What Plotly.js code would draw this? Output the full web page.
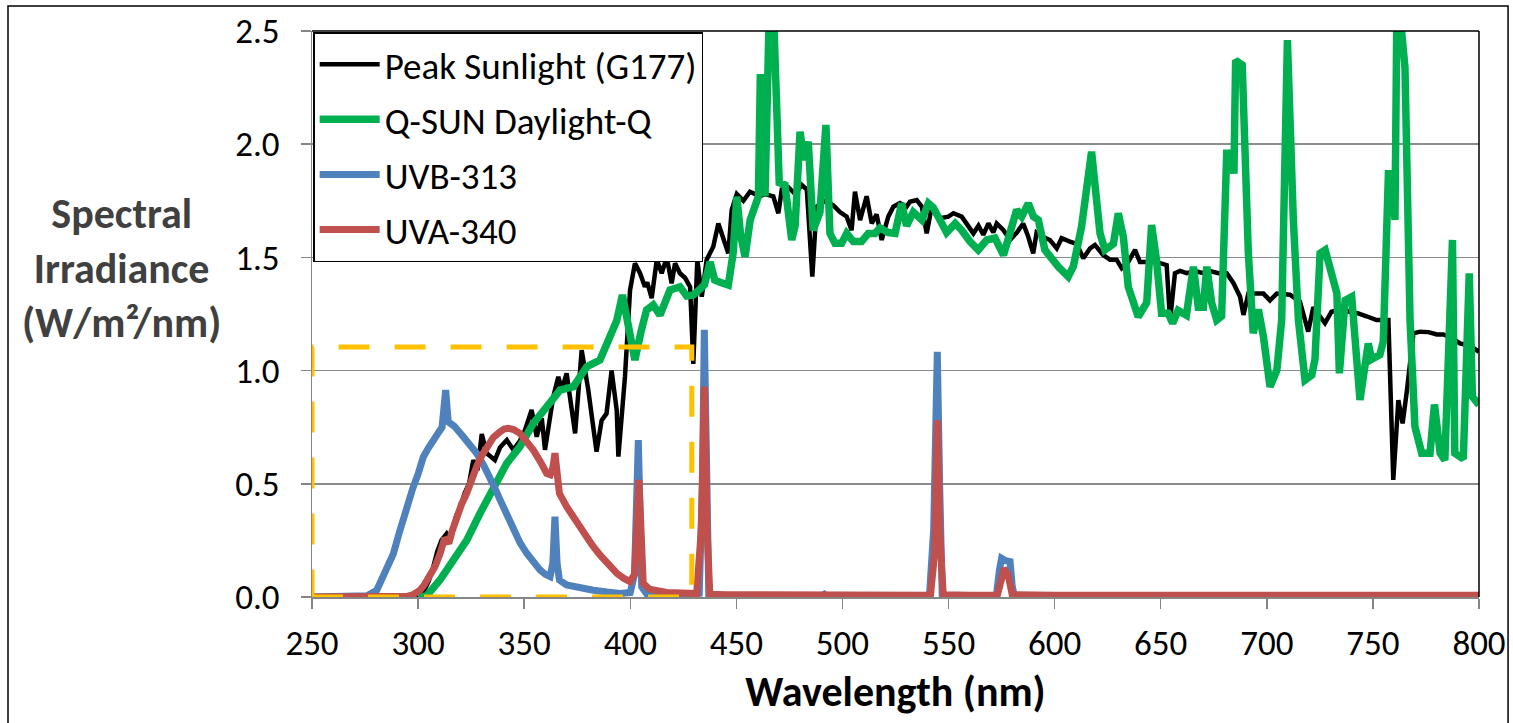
<!DOCTYPE html>
<html>
<head>
<meta charset="utf-8">
<script src="https://cdn.plot.ly/plotly-3.0.1.min.js"></script>
<style>html,body{margin:0;padding:0;background:#fff;}#chart{width:1513px;height:723px;}</style>
</head>
<body>
<div id="chart"></div>
<script>
// Wavelength (nm) and spectral irradiance (W/m2/nm)
const seriesNames = ["Peak Sunlight (G177)", "Q-SUN Daylight-Q", "UVB-313", "UVA-340"];

const sunWl = [295,300,303,305,307.2,309,311,313.5,315,318,
  320,322,324,326,328,330,332.3,334,336.2,338.6,
  341.8,344.9,348,350.4,353.5,355.9,358.3,359.8,362.2,363.7,
  366.1,367.7,370,374,377.1,380.2,384.1,386.5,388.8,391.2,
  393.6,394.4,397.5,399.9,402.2,404.6,406.9,408,410.1,412.5,
  414.8,417.2,419.5,421.1,423.4,425.8,428.2,429.7,431.6,433.7,
  436,439.1,441.5,443.8,446.2,447.8,450.2,453.3,456.4,461.1,
  463.5,467.4,469.8,471.4,474.5,477.7,480.8,483.2,485.8,487.8,
  491.8,495.7,498.8,502,504.3,505.9,508.3,511.4,513.8,516.1,
  518.5,521.6,524,527.1,530.2,531.8,535,537.4,539.7,542.1,
  546,549.9,552.3,556.2,558.6,561.7,564.1,566.4,568.8,571.1,
  572.7,575.9,579,582.2,585.2,587.6,589.9,591.5,594.6,597.8,
  601,603.3,607.2,610.4,613.5,616.7,619,622.9,626.1,629.2,
  631.6,634.7,637.9,640.2,644.1,648,652.8,654.4,656.7,659.1,
  662.2,666.2,670.1,673.2,677.2,681.1,684.3,687.4,689,691.3,
  693.7,698.4,701.5,704.7,710.9,715.6,719.5,721.9,724.2,727.4,
  730.5,734.4,739.1,743.1,747,751.7,757.3,759.6,762,764,
  766,769.1,772.2,776.2,780.1,783.2,787.1,791,795.7,800];
const sunVal = [0,0.005,0.03,0.07,0.134,0.2,0.25,0.28,0.26,0.36,
  0.40,0.46,0.50,0.605,0.56,0.72,0.635,0.62,0.605,0.66,
  0.693,0.65,0.69,0.738,0.826,0.708,0.79,0.65,0.79,0.885,
  0.973,0.915,0.988,0.723,1.09,0.915,0.642,0.78,0.81,1.00,
  0.826,0.62,0.973,1.356,1.474,1.43,1.37,1.39,1.32,1.49,
  1.43,1.50,1.385,1.474,1.43,1.41,1.37,1.03,1.49,1.326,
  1.49,1.547,1.65,1.59,1.518,1.71,1.78,1.75,1.79,1.77,
  1.78,1.77,1.695,1.80,1.81,1.78,1.82,1.80,1.415,1.724,
  1.75,1.73,1.70,1.68,1.62,1.79,1.665,1.77,1.65,1.69,
  1.577,1.68,1.724,1.74,1.724,1.746,1.753,1.724,1.606,1.724,
  1.673,1.68,1.695,1.68,1.65,1.606,1.64,1.60,1.65,1.61,
  1.65,1.62,1.577,1.61,1.65,1.59,1.518,1.61,1.59,1.577,
  1.54,1.585,1.57,1.56,1.496,1.54,1.555,1.51,1.49,1.49,
  1.452,1.48,1.533,1.48,1.48,1.48,1.466,1.22,1.43,1.44,
  1.43,1.44,1.43,1.44,1.43,1.43,1.386,1.326,1.246,1.34,
  1.34,1.34,1.31,1.34,1.335,1.305,1.172,1.28,1.25,1.21,
  1.26,1.27,1.26,1.253,1.24,1.223,1.223,0.517,0.87,0.767,
  0.91,1.165,1.172,1.17,1.16,1.16,1.145,1.12,1.11,1.083];

const qsunWl = [300,304,310.3,316.6,322.9,329.2,335.4,341.8,348,354.3,
  360.6,366.9,373.2,379.5,385.7,390.4,393.6,396.3,399,402.2,
  405,407.7,410.8,414,418.7,423.4,426.6,429.7,432.9,435,
  437.6,439.8,442.3,446.2,448.5,450.2,452,454.1,456.5,460.4,
  461.3,463.5,465.3,467.8,470.2,472.9,476.1,477.7,480,481.9,
  483.9,486.2,489.4,492.2,494.1,496.5,499.6,502,505.1,509,
  512.2,515.3,517.7,521.6,524.8,527.9,530.2,533.4,537.4,540.5,
  542.8,546,549.1,553.1,556.2,560.1,564,568,571.9,575.9,
  579,582.1,584.5,587.6,590,592.3,595.4,598.6,601.7,606.4,
  608.8,612.7,617.4,619.8,621.4,623.7,627.7,630,632.4,634.7,
  639.4,643.4,645.7,648,650.4,653.5,655.6,658.2,662.1,665.4,
  667.7,670.1,671.7,674,676.4,678.7,681.1,683.4,684.5,685.3,
  688.4,691.3,693.6,696,698.4,701.5,704.7,707,709.7,712.5,
  714.9,718,721.2,722.7,725.1,727.5,729.8,733,734.2,736.9,
  740,743.9,747.8,749.4,753.3,754.9,757.3,758.9,760.4,761.2,
  763.6,765.1,767.5,769.8,773,776.9,779,781.7,783.9,787.5,
  788.6,792.6,795.4,796.9,800];
const qsunVal = [0,0.005,0.075,0.163,0.25,0.37,0.487,0.59,0.664,0.767,
  0.84,0.914,0.929,1.017,1.047,1.15,1.22,1.334,1.2,1.047,
  1.17,1.268,1.29,1.245,1.356,1.37,1.33,1.334,1.36,1.38,
  1.48,1.40,1.39,1.378,1.52,1.768,1.6,1.503,1.665,1.77,
  2.31,1.77,2.50,2.50,1.83,1.82,1.577,1.64,2.055,1.93,
  2.011,1.62,1.70,2.085,1.606,1.562,1.562,1.606,1.57,1.57,
  1.606,1.606,1.63,1.61,1.606,1.739,1.64,1.70,1.665,1.739,
  1.72,1.665,1.61,1.65,1.62,1.57,1.533,1.577,1.585,1.51,
  1.606,1.71,1.68,1.739,1.68,1.665,1.533,1.49,1.459,1.415,
  1.46,1.636,1.967,1.75,1.606,1.533,1.56,1.695,1.59,1.37,
  1.238,1.30,1.643,1.488,1.253,1.253,1.209,1.266,1.245,1.459,
  1.28,1.28,1.459,1.30,1.223,1.24,1.96,1.96,1.87,2.37,
  2.35,1.518,1.165,1.27,1.15,0.929,1.00,1.223,2.46,1.665,
  1.223,0.958,0.98,1.05,1.518,1.533,1.45,1.341,0.988,1.31,
  1.326,0.87,1.12,1.05,1.07,1.13,1.87,1.87,1.665,2.49,
  2.49,2.34,1.223,0.752,0.635,0.635,0.85,0.635,0.605,1.577,
  0.635,0.61,1.43,0.885,0.848];

const uvbWl = [250,270,276,280.5,284,288.3,291,294.6,297.5,300.1,
  302.5,305,307.2,309.5,311.3,313,314.2,317,321.3,324.5,
  327.6,331,333.9,336.2,338.6,341.8,344.9,348,351.2,354.3,
  357.5,360,362.2,363.5,364.5,365.5,366.6,370,376,382.6,
  389,395.2,400,402,403.8,405.4,408,415,425,432.5,
  434,434.9,436,437,440,460,490,491.5,493,520,
  541,543,544.7,545.8,547,550,572.5,574,575,577,
  579,580,581,600,700,800];
const uvbVal = [0,0,0.005,0.03,0.1,0.19,0.28,0.40,0.48,0.546,
  0.62,0.66,0.70,0.725,0.75,0.914,0.774,0.755,0.708,0.675,
  0.635,0.58,0.53,0.48,0.43,0.36,0.296,0.24,0.193,0.15,
  0.119,0.1,0.09,0.15,0.355,0.15,0.075,0.053,0.04,0.03,
  0.022,0.016,0.02,0.1,0.693,0.045,0.01,0.005,0.005,0.016,
  0.5,1.18,0.4,0.01,0.003,0.002,0.002,0.012,0.002,0.002,
  0.005,0.3,1.083,0.5,0.01,0.003,0.003,0.12,0.171,0.16,
  0.156,0.05,0.003,0.002,0.002,0.002];

const uvaWl = [250,280,295,298,300.9,303,305.6,308,310.3,311.5,
  312.5,313.5,314.5,316,318.2,320.5,322.9,325,327.6,330,
  332.3,335.5,338.6,340.5,342.5,345,348,351,354.3,357.5,
  360.6,362.3,363.5,364.5,365.5,366.6,370,374,377.9,382,
  385.7,389.5,393.6,397,399.9,402,404.1,406.1,409,417.2,
  425,431.3,433.5,434.9,436.2,437.5,445,500,541.5,543.5,
  544.7,545.8,547.5,560,573,575,576.1,578,580,600,800];
const uvaVal = [0,0,0.003,0.012,0.03,0.055,0.09,0.135,0.19,0.225,
  0.26,0.25,0.237,0.29,0.355,0.41,0.458,0.515,0.576,0.625,
  0.664,0.705,0.73,0.742,0.745,0.74,0.723,0.69,0.649,0.6,
  0.546,0.54,0.57,0.635,0.55,0.458,0.399,0.34,0.281,0.23,
  0.186,0.145,0.105,0.082,0.068,0.1,0.517,0.06,0.035,0.02,
  0.017,0.015,0.3,0.93,0.3,0.012,0.01,0.008,0.008,0.2,
  0.78,0.3,0.01,0.008,0.008,0.08,0.126,0.1,0.01,0.008,0.008];

const xTicks = [250,300,350,400,450,500,550,600,650,700,750,800];
const yTicks = [0,0.5,1.0,1.5,2.0,2.5];
const boxWl = [250, 429];      // dashed highlight box, wavelength span
const boxIrr = [0, 1.104];     // dashed highlight box, irradiance span

const FONT = "Carlito, Calibri, Lato, sans-serif";
const colors = ["#000000", "#00B050", "#4F81BD", "#C0504D"];
const widths = [4.5, 7.5, 7, 7];
const xs = [sunWl, qsunWl, uvbWl, uvaWl];
const ys = [sunVal, qsunVal, uvbVal, uvaVal];

const traces = seriesNames.map((n, i) => ({
  type: "scatter", mode: "lines", name: n, x: xs[i], y: ys[i],
  legendgroup: "g" + i,
  line: {color: colors[i], width: widths[i]},
  hoverinfo: "skip"
}));

const layout = {
  width: 1513, height: 723,
  margin: {l: 312, r: 34, t: 31, b: 126},
  paper_bgcolor: "#fff", plot_bgcolor: "#fff",
  font: {family: FONT, color: "#000", size: 30},
  showlegend: true,
  legend: {
    x: 0.001, y: 0.998, xanchor: "left", yanchor: "top",
    bgcolor: "#fff", bordercolor: "#000", borderwidth: 1.5,
    font: {family: FONT, size: 37, color: "#000"},
    itemwidth: 60, tracegroupgap: 4, traceorder: "grouped"
  },
  xaxis: {
    range: [250, 800], tickvals: xTicks, ticktext: xTicks.map(String),
    ticks: "outside", ticklen: 10, tickwidth: 1.5, tickcolor: "#868686",
    showline: true, linecolor: "#868686", linewidth: 1.5,
    showgrid: false, zeroline: false, ticklabelstandoff: 4,
    tickfont: {family: FONT, size: 35, color: "#000"},
    title: {text: "Wavelength (nm)", font: {family: FONT, size: 42, color: "#000", weight: "bold"}, standoff: 14}
  },
  yaxis: {
    range: [0, 2.5], tickvals: yTicks, ticktext: yTicks.map(v => v.toFixed(1)),
    ticks: "outside", ticklen: 10, tickwidth: 1.5, tickcolor: "#868686",
    showline: true, linecolor: "#868686", linewidth: 1.5,
    showgrid: true, gridcolor: "#8c8c8c", gridwidth: 1.5, zeroline: false,
    ticklabelstandoff: 14,
    tickfont: {family: FONT, size: 35, color: "#000"}
  },
  annotations: [{
    text: "Spectral<br>Irradiance<br>(W/m²/nm)", xref: "paper", yref: "paper",
    x: -0.163, y: 0.581, xanchor: "center", yanchor: "middle", showarrow: false,
    font: {family: FONT, size: 42, color: "#404040", weight: "bold"}, align: "center"
  }],
  shapes: [
    {type: "rect", xref: "x", yref: "y", x0: boxWl[0], x1: boxWl[1], y0: boxIrr[0], y1: boxIrr[1],
     line: {color: "#FFC000", width: 5, dash: "31px,25px"}, layer: "above"},
    {type: "line", xref: "paper", yref: "paper", x0: 0, x1: 1, y0: 1, y1: 1, line: {color: "#000", width: 1.5}},
    {type: "line", xref: "paper", yref: "paper", x0: 1, x1: 1, y0: 0, y1: 1, line: {color: "#000", width: 1.5}},
    {type: "rect", xref: "paper", yref: "paper", x0: -0.2605, x1: 1.0249, y0: -0.3, y1: 1.0442,
     line: {color: "#000", width: 1.5}, fillcolor: "rgba(0,0,0,0)"}
  ]
};

Plotly.newPlot("chart", traces, layout, {staticPlot: true, displayModeBar: false});
</script>
</body>
</html>
